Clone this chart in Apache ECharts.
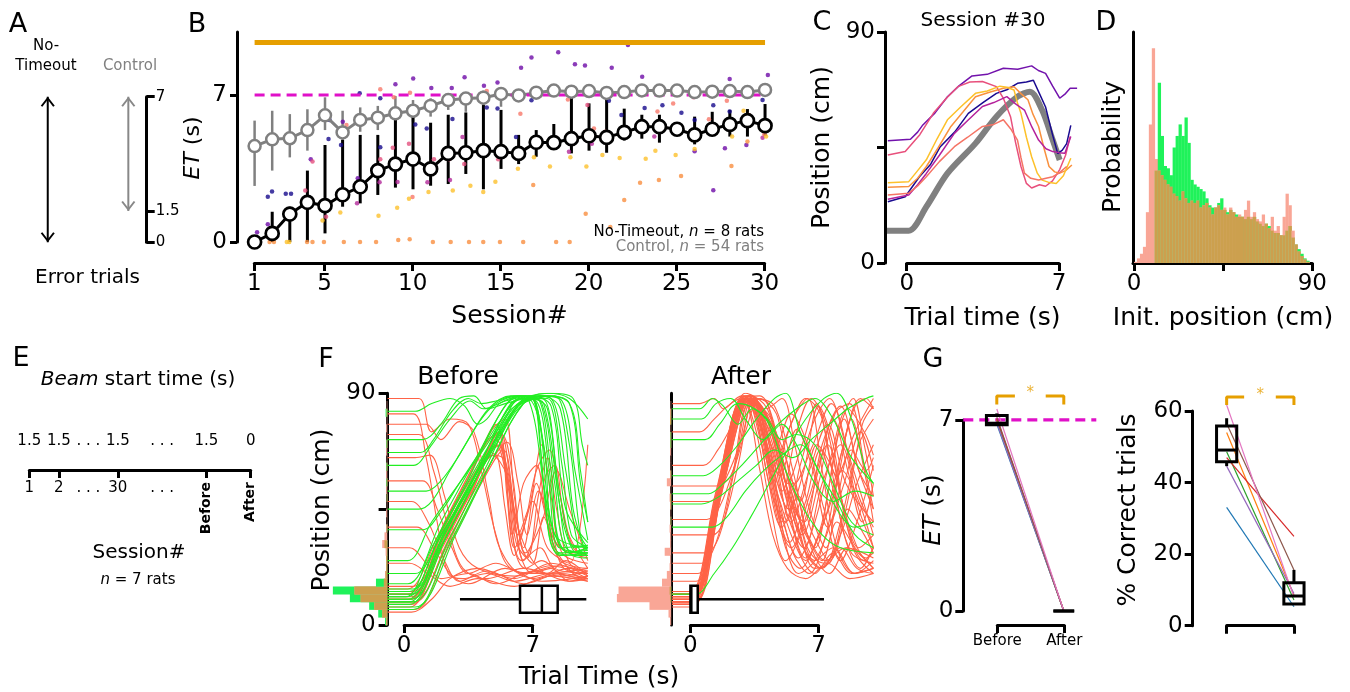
<!DOCTYPE html>
<html>
<head>
<meta charset="utf-8">
<script src="https://cdn.jsdelivr.net/npm/echarts@6/dist/echarts.min.js"></script>
<style>
html, body { margin: 0; padding: 0; background: #fff; }
#chart { width: 1350px; height: 692px; }
</style>
</head>
<body>
<div id="chart"></div>
<script>
// ---------- data ----------
// A: schematic ranges of error-trial ET
const aNoTimeoutRange = [0, 7];
const aControlRange = [1.5, 7];
const aTicks = [0, 1.5, 7];

// B: ET per session
const sessions = [1,2,3,4,5,6,7,8,9,10,11,12,13,14,15,16,17,18,19,20,21,22,23,24,25,26,27,28,29,30];
const ntMean = [0,0.41,1.33,1.89,1.73,2.25,2.63,3.4,3.71,3.95,3.48,4.22,4.25,4.35,4.3,4.22,4.75,4.73,4.92,5.06,4.98,5.22,5.49,5.49,5.37,5.1,5.37,5.6,5.78,5.54];
const ntLow = [0,0,0,0,0.41,1.68,1.84,2.24,2.59,2.51,2.68,2.76,3.24,2.51,3.48,3.71,4.06,4.51,4.22,4.35,4.25,4.83,4.92,4.73,5.1,4.65,5.05,5.02,5.02,5.05];
const ntHigh = [0,1.44,1.68,3.4,4.62,4.86,5.1,5.1,6.25,6.02,5.68,6.06,6.17,6.52,6.29,5.1,5.33,5.62,6.95,6.6,6.87,6.35,6.06,6.06,5.65,5.97,6.2,6.29,6.33,6.57];
const ctrlMean = [4.57,4.89,4.94,5.33,6.03,5.22,5.81,5.92,6.13,6.25,6.48,6.76,6.83,6.87,7.05,6.98,7.11,7.21,7.16,7.19,7.1,7.14,7.22,7.21,7.21,7.14,7.16,7.19,7.14,7.24];
const ctrlLow = [2.67,3.4,4.03,4.35,5.33,4.54,5.25,5.33,5.65,5.73,5.97,6.29,6.2,6.41,6.44,6.68,6.9,7.0,6.95,6.98,6.9,6.95,7.02,7.0,7.0,6.95,6.96,7.0,6.94,7.05];
const ctrlHigh = [5.78,6.25,6.09,6.32,6.89,6.25,6.41,6.48,6.95,6.76,6.84,6.98,7.08,7.21,7.24,7.24,7.3,7.4,7.36,7.38,7.3,7.33,7.42,7.4,7.4,7.33,7.36,7.38,7.33,7.43];
const bTopLevel = 9.5;
const bTargetET = 7;
const bTicksX = [1, 5, 10, 15, 20, 25, 30];
const bTicksY = [0, 7];
// single rats (session, ET)
const ratNavy = [[1.75,2.16],[1.99,2.4],[2.77,2.3],[3.07,2.3],[5.26,5.81],[5.2,4.9],[5.91,4.62],[6.97,7.08],[8.14,6.84],[8.14,4.51],[10.13,5.59],[10.78,5.41],[12.24,5.86],[14.19,6.41],[14.8,6.36],[15.85,5.0],[16.73,6.75],[18.09,7.21],[19.1,7.16],[21.13,6.73],[21.84,6.05],[23.16,6.38],[24.17,6.51],[25.25,6.16],[26.0,5.81],[27.06,6.51],[27.99,6.21],[28.84,5.97],[29.86,6.76]];
const ratPurple = [[1.14,0.46],[1.75,0.84],[4.19,3.94],[3.94,2.0],[6.01,5.73],[6.86,3.03],[9.0,7.51],[10.01,7.79],[11.04,7.33],[12.2,7.33],[12.93,7.84],[14.03,7.44],[14.8,7.59],[16.14,8.3],[16.73,8.78],[18.25,9.03],[19.2,8.46],[19.77,8.4],[21.29,8.3],[22.21,9.38],[23.02,7.87],[26.0,4.32],[27.06,2.46],[27.99,7.76],[27.72,4.46],[28.94,4.62],[30.16,7.95]];
const ratMagenta = [[6.01,2.0],[6.82,1.84],[8.1,2.84],[9.12,2.86],[10.82,2.84],[12.1,2.95],[12.81,5.0],[14.03,4.57],[15.96,4.03],[18.86,4.3],[20.16,4.68],[23.71,5.02],[29.86,4.97]];
const ratPink = [[3.88,2.45],[4.29,3.83],[5.06,1.2],[8.14,3.94],[8.85,4.49],[9.77,4.68],[11.19,3.94],[12.06,3.94],[12.91,3.71],[14.84,3.94],[16.87,4.9],[19.91,6.52],[22.92,5.25],[24.99,5.27],[25.94,6.89],[26.91,5.27]];
const ratSalmon = [[6.22,5.57],[8.14,7.27],[8.91,6.89],[9.83,7.11],[9.97,2.14],[14.19,7.19],[16.1,6.11],[18.8,6.79],[20.28,5.41],[20.93,5.25],[21.94,7.33],[23.89,6.22],[24.78,6.6],[26.81,5.84],[27.83,6.73],[29.08,6.05],[29.96,5.13]];
const ratGold = [[2.83,0],[2.97,0],[4.86,1.02],[5.87,1.4],[8.04,1.25],[9.1,1.63],[9.77,2.06],[10.88,2.38],[12.26,2.45],[13.26,2.68],[13.99,2.38],[14.68,2.87],[15.96,3.49],[16.87,4.03],[17.78,3.59],[18.94,4.03],[19.85,3.59],[20.76,4.14],[21.74,4.0],[23.22,3.97],[23.77,4.35],[24.92,4.14],[26.0,4.43],[28.13,5.02],[28.78,6.25],[30.06,5.02]];
const ratOrange = [[1.85,0],[2.1,0],[3.98,0],[4.29,0],[4.94,0],[6.07,0],[6.99,0],[7.9,0],[9.16,0.1],[9.81,0.13],[11.13,0],[12.14,0],[13.18,0],[13.99,0],[14.94,0],[16.26,0],[18.13,0],[18.9,0],[16.83,2.71],[19.81,1.35],[21.21,0.71],[22.0,2.0],[22.9,2.82],[23.97,2.95],[25.23,3.14],[28.09,3.62],[29.0,4.78]];

// C: session #30 trajectories (time s, position cm)
const cAverage = [[-0.91,12.6],[0.09,12.6],[0.9,21.9],[1.87,34.9],[3.16,46.6],[4.12,57],[5.09,64.8],[5.66,66.7],[6.22,59.6],[6.71,47.9],[7.03,40.1]];
const cNavy = [[-0.87,23.9],[-0.07,25.8],[0.58,33.6],[1.1,38.5],[1.54,45.3],[2.2,51],[2.83,58.3],[3.5,62.5],[4.12,66.1],[4.6,67.5],[5.09,70],[5.5,70.5],[5.82,71.2],[6.1,66],[6.38,60.8],[6.7,50],[6.94,42.6],[7.15,44],[7.35,46.5],[7.54,53.6]];
const cPurple = [[-0.87,47.6],[0.17,48.2],[0.5,51],[0.74,53.8],[1.3,58.5],[1.87,64.8],[2.4,69],[3.0,72.9],[3.7,73.5],[4.44,75.9],[5.1,75.5],[5.74,76.8],[6.05,75],[6.38,73.9],[6.7,69],[7.03,64.2],[7.3,66],[7.51,68.1],[7.83,68.1]];
const cPink = [[-0.87,42.1],[-0.07,43.4],[0.6,50],[1.22,58.3],[1.8,64],[2.35,68.7],[2.9,70.5],[3.48,70.7],[4.12,68.7],[4.45,64],[4.77,57],[5.0,47],[5.25,37.6],[5.5,31],[5.74,29.2],[6.1,30.5],[6.38,29.9],[6.7,32],[7.03,36.4],[7.3,42],[7.51,49.3]];
const cOrange = [[-0.87,29.5],[0.09,29.8],[0.5,33],[0.9,37.6],[1.45,45],[2.03,53.2],[2.6,59],[3.16,64.8],[3.8,66.5],[4.44,68.1],[4.93,68.7],[5.25,66],[5.57,63.6],[5.8,58],[6.06,53.2],[6.3,45],[6.54,37.6],[6.8,35.5],[7.03,35],[7.3,36],[7.59,38.2]];
const cGold = [[-0.87,31.3],[0.09,31.7],[0.5,36],[0.9,40.2],[1.4,48.5],[1.87,55.8],[2.5,61],[3.16,66.1],[3.7,67],[4.28,68.9],[4.6,68.5],[4.93,67.4],[5.1,62],[5.25,58.3],[5.5,49],[5.74,41.4],[6.0,35],[6.22,32.3],[6.5,31.5],[6.87,31],[7.2,34],[7.54,40.8]];
const cMagenta = [[-0.87,24.8],[0.09,26.5],[0.5,30.5],[0.9,34.9],[1.5,42],[2.19,50.5],[2.8,55.5],[3.48,61],[4.0,62.5],[4.6,64.8],[5.0,62],[5.41,59.6],[5.75,53],[6.06,47.9],[6.4,44.5],[6.71,43.4],[7.0,43],[7.27,42.8],[7.54,49.3]];
const cSalmon = [[-0.87,26.5],[0.09,27.2],[0.5,30],[0.9,33.6],[1.5,39.5],[2.19,45.3],[2.8,49],[3.48,53.2],[4.0,54],[4.44,55.8],[4.8,52],[5.09,47.9],[5.25,41],[5.41,35],[5.7,33],[6.06,32.3],[6.4,33],[6.71,33.6],[7.0,35],[7.35,37.6]];

// D: initial position histograms, 1.5 cm bins from 0 to 90
const dBinWidth = 1.5;
const dCorrect = [0,0,0,0,0,0,0,0.4,0.78,0.55,0.42,0.41,0.38,0.5,0.55,0.6,0.55,0.63,0.52,0.36,0.34,0.33,0.32,0.31,0.28,0.25,0.24,0.24,0.26,0.28,0.23,0.22,0.23,0.22,0.21,0.2,0.2,0.19,0.2,0.19,0.2,0.18,0.17,0.16,0.17,0.16,0.14,0.13,0.13,0.12,0.12,0.14,0.16,0.11,0.08,0.06,0.04,0.02,0.01,0];
const dError = [0.005,0.02,0.04,0.07,0.22,0.6,0.93,0.45,0.4,0.38,0.36,0.34,0.33,0.3,0.29,0.27,0.31,0.28,0.26,0.27,0.26,0.27,0.24,0.25,0.26,0.24,0.21,0.24,0.25,0.23,0.24,0.21,0.24,0.22,0.2,0.21,0.2,0.23,0.27,0.2,0.22,0.19,0.18,0.21,0.17,0.15,0.2,0.14,0.16,0.12,0.2,0.3,0.25,0.14,0.08,0.05,0.03,0.015,0.005,0];

// E: protocol
const eTickSlots = [0, 2, 6, 12, 15];
const eSessionSlots = [0, 2, 4, 6, 9];
const eSessionLabels = ['1', '2', '. . .', '30', '. . .'];
const eBeamSlots = [0, 2, 4, 6, 9, 12, 15];
const eBeamLabels = ['1.5', '1.5', '. . .', '1.5', '. . .', '1.5', '0'];
const eEndSlots = [12, 15];
const eEndLabels = ['Before', 'After'];

// F: trajectories (time s, position cm)
const fBeforeGreen = [
  [[-0.9,8],[0.3,8],[2,30],[4,58],[6,84],[7,89],[8,88],[8.8,60],[9.5,30],[10,27]],
  [[-0.9,10],[0.2,10],[2,33],[4,60],[5.8,86],[6.8,88],[7.6,86],[8.4,50],[9,28],[10,26]],
  [[-0.9,12],[0.4,12],[2.2,35],[4.2,62],[6.2,85],[7.5,89],[8.5,84],[9.2,45],[9.8,30],[10,29]],
  [[-0.9,6],[0.5,6],[2.5,32],[4.5,60],[6.5,86],[7.8,89],[9,86],[9.6,55],[10,40]],
  [[-0.9,9],[0.3,9],[1.8,28],[3.8,55],[5.5,80],[6.3,88],[7.2,87],[7.9,60],[8.4,32],[9,28],[10,30]],
  [[-0.9,11],[0.1,11],[1.5,30],[3.5,57],[5.3,83],[6.2,89],[7,88],[7.4,70],[7.9,35],[8.5,27],[10,28]],
  [[-0.9,14],[0.5,14],[2.3,38],[4.5,66],[6,84],[7.2,88],[8.2,89],[9,70],[9.6,35],[10,30]],
  [[-0.9,7],[0.6,7],[2.8,35],[4.8,64],[6.6,87],[8,90],[9.2,88],[9.7,70],[10,62]],
  [[-0.9,16],[0.2,16],[2,40],[4,66],[5.6,86],[6.5,89],[7.5,86],[8.2,55],[8.8,30],[10,28]],
  [[-0.9,10],[0.4,10],[2.4,36],[4.4,63],[6.3,86],[7.4,89],[8.6,87],[9.3,60],[10,33]],
  [[-0.9,13],[0.3,13],[2,36],[4,62],[5.9,84],[6.9,88],[7.8,84],[8.5,45],[9.2,29],[10,27]],
  [[-0.9,83],[0.6,83],[1.5,86],[2.5,88],[3.3,85],[4,78],[4.5,80],[5.2,86],[6.5,89],[7.3,88],[8,60],[8.6,30],[10,28]],
  [[-0.9,72],[1,72],[2,78],[3,88],[3.8,89],[4.5,84],[5.5,86],[6.7,88],[7.6,70],[8.2,35],[10,30]],
  [[-0.9,62],[0.5,62],[1.5,70],[2.5,80],[3.6,87],[4.3,84],[5.5,87],[6.8,89],[7.8,60],[8.5,30],[10,31]],
  [[-0.9,52],[1.2,52],[2,56],[3,66],[4,78],[5,86],[6.3,89],[7.2,86],[8,40],[9,28],[10,30]],
  [[-0.9,45],[0.8,45],[1.5,48],[2.5,60],[3.5,72],[4.6,84],[5.8,89],[6.8,87],[7.7,50],[8.5,28],[10,29]],
  [[-0.9,37],[1,37],[2,44],[3,55],[4.2,68],[5.3,80],[6.3,88],[7.5,88],[8.5,50],[9.3,30],[10,31]],
  [[-0.9,25],[0.2,25],[1.5,40],[3,55],[4.5,70],[5.8,85],[6.8,89],[8,85],[8.8,45],[10,32]],
  [[-0.9,20],[0.6,20],[2,35],[3.5,52],[5,70],[6.2,84],[7.5,89],[9,86],[9.6,60],[10,40]],
  [[-0.9,9],[0.5,9],[2.5,34],[4.5,62],[6.3,86],[7.8,90],[9,88],[10,80]],
  [[-0.9,11],[0.2,11],[1.8,32],[3.8,58],[5.6,82],[6.6,87],[7.8,88],[8.6,62],[9.1,35],[10,30]],
  [[-0.9,67],[0.9,67],[1.6,72],[2.6,83],[3.5,88],[4.2,86],[5,87],[6,89],[7,88],[7.6,55],[8.3,28],[10,27]]
];
const fBeforeRed = [
  [[-0.9,10],[0.3,10],[2,32],[3.8,55],[5,72],[5.6,60],[6,30],[6.6,22],[7.5,25],[8.5,20],[10,18]],
  [[-0.9,12],[0.5,12],[2.2,36],[4,60],[5.2,75],[5.8,55],[6.3,28],[7,20],[8,22],[9,17],[10,19]],
  [[-0.9,8],[0.4,8],[2,30],[3.5,50],[4.8,68],[5.3,70],[5.8,40],[6.4,25],[7.4,30],[8.2,22],[10,20]],
  [[-0.9,14],[0.2,14],[1.8,34],[3.5,58],[4.8,76],[5.5,80],[6,50],[6.6,28],[7.5,40],[8.3,60],[9,45],[10,25]],
  [[-0.9,6],[0.6,6],[2.4,30],[4.2,55],[5.4,68],[6,45],[6.5,30],[7.2,55],[7.8,40],[8.5,25],[10,22]],
  [[-0.9,82],[0.5,82],[1.2,65],[1.8,40],[2.4,20],[3.2,18],[4.5,20],[6,17],[8,20],[10,17]],
  [[-0.9,74],[0.8,74],[1.6,60],[2.5,35],[3.2,22],[4.5,18],[6.5,22],[8.5,19],[10,21]],
  [[-0.9,65],[0.6,65],[1.4,66],[2.2,50],[3,30],[4,22],[6,19],[8,23],[10,18]],
  [[-0.9,56],[1,56],[1.8,45],[2.6,30],[3.5,20],[5,24],[7,18],[9,22],[10,20]],
  [[-0.9,48],[0.4,48],[1.3,40],[2.2,25],[3,17],[4.5,21],[6.5,16],[8.5,20],[10,18]],
  [[-0.9,38],[0.7,38],[1.6,30],[2.5,20],[3.5,16],[5.5,22],[7.5,17],[10,19]],
  [[-0.9,30],[0.3,30],[1.2,24],[2,18],[3.5,20],[5,16],[7,21],[9,17],[10,18]],
  [[-0.9,88],[0.8,88],[1.5,75],[2.5,80],[3.5,78],[4.2,60],[5,35],[5.8,22],[7.5,20],[10,22]],
  [[-0.9,78],[1.2,78],[2,72],[3,79],[3.8,75],[4.6,50],[5.2,30],[6.5,20],[8.5,23],[10,20]],
  [[-0.9,10],[0.3,10],[2,35],[3.6,58],[4.6,72],[5.2,75],[5.6,50],[6,30],[6.8,45],[7.5,70],[8,50],[8.6,28],[10,24]],
  [[-0.9,13],[0.5,13],[2.2,40],[4,65],[5,78],[5.5,60],[5.9,35],[6.5,55],[7.2,62],[7.8,40],[8.5,30],[10,26]],
  [[-0.9,5],[0.4,5],[1.5,10],[2.5,18],[4,22],[6,18],[8,24],[10,19]],
  [[-0.9,9],[0.6,9],[2,26],[3.5,48],[4.8,66],[5.6,58],[6.2,35],[7,48],[7.8,30],[9,24],[10,70]],
  [[-0.9,24],[0.3,24],[1.3,20],[2.5,15],[4,18],[6,15],[8,19],[10,17]],
  [[-0.9,11],[0.4,11],[2.1,34],[3.9,58],[5.1,70],[5.7,52],[6.1,32],[6.7,26],[7.3,50],[7.8,65],[8.3,45],[9,24],[10,21]],
  [[-0.9,7],[0.3,7],[2,29],[3.7,52],[4.9,66],[5.5,64],[6,42],[6.5,25],[7.1,35],[7.7,58],[8.2,62],[8.8,38],[10,22]],
  [[-0.9,15],[0.5,15],[2.3,40],[4.1,62],[5.3,74],[5.9,58],[6.4,30],[7,24],[7.6,42],[8.2,30],[9.2,20],[10,18]],
  [[-0.9,12],[0.2,12],[1.9,33],[3.6,55],[4.7,67],[5.1,65],[5.5,45],[6,27],[6.6,40],[7.2,60],[7.9,68],[8.5,50],[9.2,30],[10,27]],
  [[-0.9,10],[0.4,10],[2.2,34],[4,58],[5,70],[5.6,57],[6.2,38],[6.9,26],[7.8,20],[8.8,25],[10,19]],
  [[-0.9,9],[0.5,9],[2.4,33],[4.3,58],[5.6,71],[6.2,55],[6.7,35],[7.3,52],[8,38],[8.7,22],[10,20]]
];
const fAfterRed = [
  [[-1,9],[0.1,9],[1.5,50],[3,88],[3.6,86],[4.3,60],[5,40],[5.6,55],[6.4,35],[7.2,25],[8,40],[9,30],[10,22]],
  [[-1,11],[0,11],[1.4,50],[2.9,89],[3.5,84],[4,70],[4.8,40],[5.5,30],[6.5,50],[7.5,70],[8.4,45],[9.2,30],[10,35]],
  [[-1,8],[0.2,8],[1.6,50],[3.1,88],[3.8,80],[4.5,55],[5.2,30],[6,22],[7,35],[8,55],[8.8,80],[9.5,60],[10,40]],
  [[-1,12],[0.1,12],[1.5,52],[3,90],[3.6,88],[4.4,75],[5.2,50],[6.3,25],[7.2,40],[8.1,75],[8.9,88],[9.5,70],[10,50]],
  [[-1,10],[0.3,10],[1.7,52],[3.2,89],[4,80],[5,65],[6,40],[6.8,30],[7.6,55],[8.4,80],[9.2,60],[10,45]],
  [[-1,7],[0,7],[1.3,45],[2.8,87],[3.4,88],[4.2,70],[5.4,45],[6.2,60],[7,85],[7.8,70],[8.5,40],[9.5,25],[10,30]],
  [[-1,13],[0.2,13],[1.6,52],[3,88],[3.7,86],[4.6,60],[5.6,80],[6.4,88],[7.2,60],[8,30],[9,20],[10,25]],
  [[-1,9],[0.1,9],[1.5,50],[3.1,88],[3.9,70],[4.8,50],[5.8,30],[6.8,20],[7.8,28],[8.8,20],[10,22]],
  [[-1,11],[0.2,11],[1.6,50],[3.2,88],[4.1,84],[5,88],[5.7,70],[6.5,45],[7.4,30],[8.2,65],[9,85],[9.6,88],[10,84]],
  [[-1,8],[0,8],[1.4,48],[2.9,88],[3.6,75],[4.4,45],[5.2,25],[6,35],[7,60],[7.8,80],[8.6,60],[9.4,40],[10,55]],
  [[-1,10],[0.2,10],[1.6,51],[3.1,89],[3.9,85],[4.7,72],[5.5,45],[6.3,28],[7.1,22],[8.2,35],[9.1,55],[10,70]],
  [[-1,12],[0.1,12],[1.5,50],[3,88],[3.8,89],[4.5,80],[5.3,55],[6.1,70],[6.9,86],[7.6,65],[8.4,35],[9.3,22],[10,30]],
  [[-1,9],[0.3,9],[1.7,51],[3.3,88],[4.3,70],[5.1,35],[5.9,20],[6.9,26],[7.9,45],[8.8,68],[9.6,60],[10,65]],
  [[-1,11],[0.1,11],[1.5,50],[3,89],[3.6,88],[4.3,66],[5,52],[5.8,75],[6.6,88],[7.4,78],[8.2,50],[9,28],[10,20]],
  [[-1,13],[0,13],[1.4,52],[2.9,88],[3.5,84],[4.2,58],[5,38],[5.9,50],[6.7,35],[7.6,25],[8.5,45],[9.4,78],[10,85]],
  [[-1,20],[0.4,20],[1.9,58],[3.3,88],[4.2,75],[5.2,45],[6.2,30],[7.2,55],[8.2,70],[9.2,45],[10,30]],
  [[-1,28],[0.8,28],[1.6,35],[2.4,60],[3.3,87],[4.4,80],[5.4,50],[6.4,35],[7.4,25],[8.5,30],[10,26]],
  [[-1,35],[1.2,35],[1.8,40],[2.6,62],[3.5,88],[4.5,70],[5.5,40],[6.5,60],[7.5,78],[8.5,55],[10,40]],
  [[-1,48],[1,48],[1.8,55],[2.7,70],[3.6,88],[4.6,85],[5.6,60],[6.6,30],[7.6,20],[8.6,30],[10,22]],
  [[-1,62],[0.7,62],[1.5,68],[2.5,80],[3.4,88],[4.2,86],[5.2,55],[6.2,40],[7.2,70],[8.2,85],[9.2,60],[10,50]],
  [[-1,75],[0.5,75],[1.3,80],[2.2,86],[3.2,89],[4.2,84],[5.2,60],[6.2,30],[7.2,22],[8.2,40],[9.2,70],[10,80]],
  [[-1,86],[0.5,86],[1.3,88],[1.8,84],[2.8,89],[3.8,86],[4.8,70],[5.8,45],[6.8,25],[7.8,30],[9,20],[10,22]],
  [[-1,54],[1.4,54],[2.2,58],[3,75],[3.8,88],[4.7,82],[5.7,55],[6.7,70],[7.7,86],[8.7,65],[10,35]],
  [[-1,8],[0.2,8],[1.5,45],[3,86],[3.8,60],[4.5,35],[5.3,22],[6.3,18],[7.5,24],[8.7,18],[10,20]],
  [[-1,10],[0.1,10],[1.5,48],[3,87],[3.7,80],[4.5,62],[5.5,78],[6.3,88],[7.1,82],[8,58],[9,75],[10,88]],
  [[-1,41],[0.9,41],[1.6,46],[2.5,64],[3.4,88],[4.3,78],[5.3,48],[6.3,26],[7.3,40],[8.3,68],[9.3,88],[10,84]],
  [[-1,10],[0.1,10],[1.5,49],[3,88],[3.7,82],[4.5,55],[5.4,32],[6.3,48],[7.1,68],[7.9,50],[8.8,28],[10,24]],
  [[-1,12],[0.2,12],[1.6,51],[3.2,89],[4,78],[4.9,58],[5.8,76],[6.7,60],[7.5,38],[8.4,55],[9.3,75],[10,60]],
  [[-1,9],[0,9],[1.4,49],[2.9,88],[3.5,86],[4.3,72],[5.2,52],[6.1,35],[7,55],[7.9,82],[8.7,86],[9.5,62],[10,45]],
  [[-1,11],[0.2,11],[1.6,51],[3.1,88],[3.9,76],[4.8,50],[5.6,28],[6.5,20],[7.4,35],[8.3,60],[9.2,48],[10,30]],
  [[-1,8],[0.1,8],[1.5,48],[3,87],[3.8,84],[4.6,68],[5.5,82],[6.4,70],[7.3,45],[8.2,25],[9.1,40],[10,62]],
  [[-1,13],[0.3,13],[1.7,53],[3.3,89],[4.2,80],[5.1,62],[6,48],[6.9,70],[7.8,60],[8.7,38],[9.6,26],[10,28]],
  [[-1,10],[0.1,10],[1.5,50],[3,88],[3.6,80],[4.4,52],[5.2,40],[6,62],[6.8,80],[7.6,88],[8.4,72],[9.2,50],[10,38]],
  [[-1,12],[0,12],[1.4,51],[2.9,88],[3.7,85],[4.6,76],[5.5,58],[6.4,30],[7.3,24],[8.2,30],[9.1,22],[10,20]],
  [[-1,17],[0.3,17],[1.8,55],[3.2,88],[4.1,70],[5,42],[5.9,26],[6.8,40],[7.7,66],[8.6,84],[9.5,75],[10,66]],
  [[-1,24],[0.6,24],[1.4,32],[2.3,58],[3.2,86],[4.1,82],[5,60],[5.9,38],[6.8,22],[7.7,25],[8.6,45],[9.5,35],[10,28]]
];
const fAfterGreen = [
  [[-1,84],[0.5,84],[1.2,88],[1.8,85],[2.6,78],[3.4,84],[4.2,80],[5,72],[5.8,74],[6.8,70],[7.8,55],[8.8,40],[10,35]],
  [[-1,80],[0.6,80],[1.4,86],[2.2,88],[3,80],[4,72],[5,78],[5.8,70],[6.8,55],[7.8,48],[9,52],[10,50]],
  [[-1,72],[0.8,72],[1.6,78],[2.6,86],[3.5,84],[4.3,78],[5.2,60],[6.2,45],[7.2,35],[8.2,30],[10,28]],
  [[-1,58],[0.7,58],[1.6,62],[2.6,70],[3.6,80],[4.6,88],[5.2,90],[6,75],[7,60],[8,48],[9,35],[10,30]],
  [[-1,51],[1,51],[1.8,55],[2.8,62],[3.8,70],[4.8,78],[5.8,84],[6.8,88],[7.8,80],[8.8,65],[10,55]],
  [[-1,47],[0.6,47],[1.6,50],[2.6,56],[3.6,62],[4.6,68],[5.6,65],[6.6,72],[7.6,78],[8.6,84],[9.6,88],[10,89]],
  [[-1,38],[1.2,38],[2,42],[3,52],[4,60],[5,66],[6,70],[7,60],[8,45],[9,38],[10,40]],
  [[-1,12],[0.3,12],[1.3,20],[2.3,30],[3.3,42],[4.3,55],[5.3,68],[6.3,80],[7.3,88],[8,90],[8.8,80],[9.6,60],[10,55]]
];
// F: initial position histograms, 3 cm bins from 0 to 90 (relative counts)
const fBinWidth = 3;
const fBeforeHistGreen = [0.04,0.16,0.32,0.66,0.96,0.2,0.03,0.02,0.02,0.01,0.05,0,0.01,0,0,0,0.01,0,0.02,0,0.02,0,0,0.02,0,0,0,0.03,0,0];
const fBeforeHistRed = [0.02,0.09,0.23,0.47,0.58,0.06,0.04,0.02,0.02,0.03,0.09,0.05,0.02,0.01,0.02,0.01,0.01,0.02,0.01,0.02,0.01,0.01,0.02,0.01,0.01,0.02,0.01,0.01,0.01,0];
const fAfterHistGreen = [0,0,0,0.02,0.03,0,0,0,0,0,0,0,0,0.01,0,0.01,0.02,0,0,0.01,0,0,0,0.02,0.02,0,0.02,0.01,0,0];
const fAfterHistRed = [0.02,0.05,0.4,1.0,0.97,0.17,0.08,0.03,0.02,0.12,0.02,0.02,0.03,0.01,0.01,0.02,0.03,0.01,0.08,0.02,0.01,0.01,0.02,0.01,0.01,0.01,0.02,0.02,0.01,0];
// F: ET box plots [position, whiskerLow, q1, median, q3, whiskerHigh]
const fBeforeBox = [10, 3.04, 6.31, 7.5, 8.36, 9.92];
const fAfterBox = [10, 0, 0, 0.05, 0.4, 7.3];

// G: per rat, Before (0) vs After (1)
const gConditions = ['Before', 'After'];
const gEtBefore = [6.85, 7.0, 6.95, 7.05, 6.9, 7.1, 7.4];
const gEtAfter = [0, 0, 0, 0, 0, 0, 0];
const gCorrectBefore = [33.1, 54, 48.6, 47, 44.6, 56.5, 61.7];
const gCorrectAfter = [5.3, 8.5, 7.2, 25, 9, 15.6, 8];
const gEtBoxes = [[0, 6.8, 6.82, 6.88, 7.16, 7.24], [1, 0, 0, 0, 0, 0]];
const gCorrectBoxes = [[0, 44.6, 45.8, 49.1, 55.8, 58], [1, 6.1, 6.1, 8.3, 12.0, 15.6]];
const gEtBracket = [7.57, 7.88];
const gCorrectBracket = [61.7, 63.9];

// ---------- styles ----------
const FONT = 'DejaVu Sans';
const ORANGE = '#e69f00';
const MAGENTA = '#e010c8';
const GRAY = '#808080';
const LINE_RED = '#ff6347';
const LINE_GREEN = '#22ee22';
const HIST_GREEN = '#1ff25a';
const HIST_SALMON = '#f9a696';
const HIST_TAN = '#cca04e';
const TAB = ['#1f77b4', '#ff7f0e', '#2ca02c', '#d62728', '#9467bd', '#8c564b', '#e377c2'];

const grids = [
  [20, 96.7, 126.7, 145.6],     // 0 A mini axis
  [237, 32, 538.6, 210],        // 1 B data
  [254.3, 262, 510.3, 1],       // 2 B x spine
  [885, 32, 195.8, 231],        // 3 C data
  [906.7, 262, 152.3, 1],       // 4 C x spine
  [1133, 32, 179.3, 231],       // 5 D
  [29.3, 469, 221.4, 1],        // 6 E
  [387.6, 393.3, 200.2, 231.7], // 7 F before
  [404.1, 624, 128.6, 1],       // 8 F before x spine
  [330.6, 393.3, 56.7, 231.7],  // 9 F before hist
  [671.2, 393.3, 202.2, 231.7], // 10 F after
  [690.4, 624, 128.1, 1],       // 11 F after x spine
  [616.9, 393.3, 54.3, 231.7],  // 12 F after hist
  [963.3, 387.2, 134, 223.8],   // 13 G ET data
  [963.3, 420, 1, 191],         // 14 G ET y spine
  [997.3, 624, 67, 1],          // 15 G ET x spine
  [1193, 389.6, 134.6, 236.1],  // 16 G % data
  [1192.7, 411, 1, 214.7],      // 17 G % y spine
  [1226.7, 624.7, 67.3, 1]      // 18 G % x spine
];

function hid(grid, min, max, extra) {
  return Object.assign({ type: 'value', gridIndex: grid, min: min, max: max, show: false,
    axisLine: { show: false, onZero: false }, splitLine: { show: false } }, extra || {});
}
function vis(grid, min, max, o) {
  const ax = {
    type: 'value', gridIndex: grid, min: min, max: max,
    axisLine: o.line === false ? { show: false, onZero: false } : { show: true, onZero: false, lineStyle: { color: '#000', width: 3 } },
    axisTick: o.ticks ? { show: true, length: o.tickLen || 8, lineStyle: { color: '#000', width: 3 }, customValues: o.ticks } : { show: false },
    axisLabel: o.labels ? {
      show: true, customValues: o.labels, color: '#000', fontSize: o.size || 23, fontFamily: FONT,
      margin: o.margin == null ? 10 : o.margin, rotate: o.rotate || 0, fontWeight: o.weight || 'normal'
    } : { show: false },
    splitLine: { show: false }
  };
  if (o.position) ax.position = o.position;
  if (o.labels && o.formatter) ax.axisLabel.formatter = o.formatter;
  return ax;
}
function lookup(slots, labels) {
  const m = {};
  slots.forEach(function (s, i) { m[s] = labels[i]; });
  return function (v) { return m[v] == null ? '' : m[v]; };
}

const xAxes = [
  hid(0, 0, 1),                                                               // 0
  hid(1, 0, 30.6),                                                            // 1
  vis(2, 1, 30, { ticks: bTicksX, labels: bTicksX }),                         // 2
  hid(3, -1, 8),                                                              // 3
  vis(4, 0, 7, { ticks: [0, 7], labels: [0, 7] }),                            // 4
  vis(5, -0.5, 90, { ticks: [0, 45, 90], labels: [0, 90] }),                  // 5
  vis(6, 0, 15, { ticks: eTickSlots, labels: eSessionSlots, size: 15, margin: 11, position: 'bottom', formatter: lookup(eSessionSlots, eSessionLabels) }), // 6
  vis(6, 0, 15, { line: false, labels: eBeamSlots, size: 15, margin: 20, position: 'top', formatter: lookup(eBeamSlots, eBeamLabels) }),                // 7
  vis(6, 0, 15, { line: false, labels: eEndSlots, size: 14, margin: 12, rotate: 90, weight: 'bold', position: 'bottom', formatter: lookup(eEndSlots, eEndLabels) }), // 8
  hid(7, -0.9, 10),                                                           // 9
  vis(8, 0, 7, { ticks: [0, 7], labels: [0, 7] }),                            // 10
  hid(9, 0, 1, { inverse: true }),                                            // 11
  hid(10, -1.05, 10),                                                         // 12
  vis(11, 0, 7, { ticks: [0, 7], labels: [0, 7] }),                           // 13
  hid(12, 0, 1, { inverse: true }),                                           // 14
  hid(13, -0.5, 1.5),                                                         // 15
  hid(14, 0, 1),                                                              // 16
  vis(15, 0, 1, { ticks: [0, 1], labels: [0, 1], size: 15, margin: 9, formatter: function (v) { return gConditions[v]; } }), // 17
  hid(16, -0.5, 1.5),                                                         // 18
  hid(17, 0, 1),                                                              // 19
  vis(18, 0, 1, { ticks: [0, 1] })                                            // 20
];
const yAxes = [
  vis(0, 0, 7, { ticks: aTicks, labels: aTicks, size: 15, margin: 9, position: 'right' }), // 0
  vis(1, 0, 10, { ticks: bTicksY, labels: bTicksY, tickLen: 7 }),             // 1
  hid(2, 0, 1),                                                               // 2
  vis(3, 0, 90, { ticks: [0, 45, 90], labels: [0, 90] }),                     // 3
  hid(4, 0, 1),                                                               // 4
  vis(5, 0, 1, {}),                                                           // 5
  hid(6, 0, 1),                                                               // 6
  vis(7, 0, 90, { ticks: [0, 45, 90], labels: [0, 90], tickLen: 9, margin: 12 }), // 7
  hid(8, 0, 1),                                                               // 8
  hid(9, 0, 90),                                                              // 9
  vis(10, 0, 90, {}),                                                         // 10
  hid(11, 0, 1),                                                              // 11
  hid(12, 0, 90),                                                             // 12
  hid(13, 0, 8.2),                                                            // 13
  vis(14, 0, 7, { ticks: [0, 7], labels: [0, 7] }),                           // 14
  hid(15, 0, 1),                                                              // 15
  hid(16, 0, 66),                                                             // 16
  vis(17, 0, 60, { ticks: [0, 20, 40, 60], labels: [0, 20, 40, 60] }),        // 17
  hid(18, 0, 1)                                                               // 18
];

// ---------- render helpers ----------
function errorBars(color, width) {
  return function (params, api) {
    const x = api.value(0);
    const a = api.coord([x, api.value(1)]);
    const b = api.coord([x, api.value(2)]);
    return { type: 'line', shape: { x1: a[0], y1: a[1], x2: b[0], y2: b[1] }, style: { stroke: color, lineWidth: width } };
  };
}
function histV(params, api) {
  const lo = api.value(0), hi = api.value(1), g = api.value(2), r = api.value(3);
  function rect(v, fill) {
    const a = api.coord([lo, v]), b = api.coord([hi, 0]);
    return { type: 'rect', shape: { x: a[0], y: a[1], width: b[0] - a[0] + 0.3, height: b[1] - a[1] }, style: { fill: fill } };
  }
  const ch = [];
  if (g > 0) ch.push(rect(g, HIST_GREEN));
  if (r > 0) ch.push(rect(r, HIST_SALMON));
  if (Math.min(g, r) > 0) ch.push(rect(Math.min(g, r), HIST_TAN));
  return { type: 'group', children: ch };
}
function histH(params, api) {
  const lo = api.value(0), hi = api.value(1), g = api.value(2), r = api.value(3);
  function rect(v, fill) {
    const a = api.coord([v, hi]), b = api.coord([0, lo]);
    return { type: 'rect', shape: { x: Math.min(a[0], b[0]), y: a[1], width: Math.abs(b[0] - a[0]), height: b[1] - a[1] + 0.3 }, style: { fill: fill } };
  }
  const ch = [];
  if (g > 0) ch.push(rect(g, HIST_GREEN));
  if (r > 0) ch.push(rect(r, HIST_SALMON));
  if (Math.min(g, r) > 0) ch.push(rect(Math.min(g, r), HIST_TAN));
  return { type: 'group', children: ch };
}
function boxV(halfW, lw) {
  return function (params, api) {
    const x = api.value(0), wlo = api.value(1), q1 = api.value(2), med = api.value(3), q3 = api.value(4), whi = api.value(5);
    const c = function (xx, yy) { return api.coord([xx, yy]); };
    const tl = c(x - halfW, q3), br = c(x + halfW, q1);
    const w1 = c(x, wlo), w2 = c(x, q1), w3 = c(x, q3), w4 = c(x, whi);
    const m1 = c(x - halfW, med), m2 = c(x + halfW, med);
    const st = { stroke: '#000', lineWidth: lw };
    return { type: 'group', children: [
      { type: 'line', shape: { x1: w1[0], y1: w1[1], x2: w2[0], y2: w2[1] }, style: st },
      { type: 'line', shape: { x1: w3[0], y1: w3[1], x2: w4[0], y2: w4[1] }, style: st },
      { type: 'rect', shape: { x: tl[0], y: tl[1], width: br[0] - tl[0], height: br[1] - tl[1] }, style: { stroke: '#000', lineWidth: lw, fill: 'rgba(0,0,0,0)' } },
      { type: 'line', shape: { x1: m1[0], y1: m1[1], x2: m2[0], y2: m2[1] }, style: st }
    ] };
  };
}
function boxH(halfH, lw) {
  return function (params, api) {
    const y = api.value(0), wlo = api.value(1), q1 = api.value(2), med = api.value(3), q3 = api.value(4), whi = api.value(5);
    const c = function (xx, yy) { return api.coord([xx, yy]); };
    const tl = c(q1, y + halfH), br = c(q3, y - halfH);
    const w1 = c(wlo, y), w2 = c(q1, y), w3 = c(q3, y), w4 = c(whi, y);
    const m1 = c(med, y + halfH), m2 = c(med, y - halfH);
    const st = { stroke: '#000', lineWidth: lw };
    return { type: 'group', children: [
      { type: 'line', shape: { x1: w1[0], y1: w1[1], x2: w2[0], y2: w2[1] }, style: st },
      { type: 'line', shape: { x1: w3[0], y1: w3[1], x2: w4[0], y2: w4[1] }, style: st },
      { type: 'rect', shape: { x: tl[0], y: tl[1], width: br[0] - tl[0], height: br[1] - tl[1] }, style: { stroke: '#000', lineWidth: lw, fill: '#fff' } },
      { type: 'line', shape: { x1: m1[0], y1: m1[1], x2: m2[0], y2: m2[1] }, style: st }
    ] };
  };
}
function lineS(xi, yi, data, color, width, extra) {
  return Object.assign({
    type: 'line', xAxisIndex: xi, yAxisIndex: yi, data: data, symbol: 'none', silent: true,
    lineStyle: { color: color, width: width }, itemStyle: { color: color }
  }, extra || {});
}
function histData(width, g, r) {
  return g.map(function (v, i) { return [i * width, (i + 1) * width, v, r[i]]; });
}

const ARROW_UP = 'path://M0,9 L7,0 L14,9 L12.4,10 L7,3 L1.6,10 Z';
const ARROW_DOWN = 'path://M0,1 L7,10 L14,1 L12.4,0 L7,7 L1.6,0 Z';

const series = [];

// A arrows
[[0.219, aNoTimeoutRange, '#000'], [0.855, aControlRange, '#888']].forEach(function (a) {
  series.push(lineS(0, 0, [
    { value: [a[0], a[1][0]], symbol: ARROW_DOWN, symbolOffset: [0, -5] },
    { value: [a[0], a[1][1]], symbol: ARROW_UP, symbolOffset: [0, 5] }
  ], a[2], 2, { showSymbol: true, symbolSize: [14, 10] }));
});

// B
[[ratNavy, '#170a8c'], [ratPurple, '#6e0ba8'], [ratMagenta, '#b32a9a'], [ratPink, '#e3507e'],
 [ratSalmon, '#f7786a'], [ratGold, '#fcc12c'], [ratOrange, '#f98f40']].forEach(function (r) {
  series.push({ type: 'scatter', xAxisIndex: 1, yAxisIndex: 1, data: r[0], symbolSize: 4.5, itemStyle: { color: r[1] }, silent: true });
});
series.push({ type: 'custom', xAxisIndex: 1, yAxisIndex: 1, renderItem: errorBars(GRAY, 2.5),
  data: sessions.map(function (s, i) { return [s, ctrlLow[i], ctrlHigh[i]]; }), silent: true });
series.push(lineS(1, 1, sessions.map(function (s, i) { return [s, ctrlMean[i]]; }), GRAY, 3,
  { symbol: 'circle', showSymbol: true, symbolSize: 12, itemStyle: { color: '#fff', borderColor: GRAY, borderWidth: 2.5 } }));
series.push(lineS(1, 1, [[1, bTargetET], [30, bTargetET]], MAGENTA, 3, { lineStyle: { color: MAGENTA, width: 3.2, type: [10, 6] } }));
series.push({ type: 'custom', xAxisIndex: 1, yAxisIndex: 1, renderItem: errorBars('#000', 3),
  data: sessions.map(function (s, i) { return [s, ntLow[i], ntHigh[i]]; }), silent: true });
series.push(lineS(1, 1, sessions.map(function (s, i) { return [s, ntMean[i]]; }), '#000', 3,
  { symbol: 'circle', showSymbol: true, symbolSize: 13, itemStyle: { color: '#fff', borderColor: '#000', borderWidth: 2.7 } }));
series.push(lineS(1, 1, [[1, bTopLevel], [30, bTopLevel]], ORANGE, 5));

// C
series.push(lineS(3, 3, cAverage, GRAY, 6, { smooth: 0.3 }));
[[cNavy, '#1a0a90'], [cPurple, '#7212ac'], [cPink, '#e8507c'], [cOrange, '#f9913f'],
 [cGold, '#fdc12a'], [cMagenta, '#b5229c'], [cSalmon, '#f57465']].forEach(function (c) {
  series.push(lineS(3, 3, c[0], c[1], 1.5));
});

// D
series.push({ type: 'custom', xAxisIndex: 5, yAxisIndex: 5, renderItem: histV, data: histData(dBinWidth, dCorrect, dError), silent: true });

// F
series.push({ type: 'custom', xAxisIndex: 11, yAxisIndex: 9, renderItem: histH, data: histData(fBinWidth, fBeforeHistGreen, fBeforeHistRed), silent: true });
series.push({ type: 'custom', xAxisIndex: 14, yAxisIndex: 12, renderItem: histH, data: histData(fBinWidth, fAfterHistGreen, fAfterHistRed), silent: true });
fBeforeRed.forEach(function (t) { series.push(lineS(9, 7, t, LINE_RED, 1.1, { smooth: 0.35 })); });
fBeforeGreen.forEach(function (t) { series.push(lineS(9, 7, t, LINE_GREEN, 1.1, { smooth: 0.35 })); });
fAfterRed.forEach(function (t) { series.push(lineS(12, 10, t, LINE_RED, 1.1, { smooth: 0.35 })); });
fAfterGreen.forEach(function (t) { series.push(lineS(12, 10, t, LINE_GREEN, 1.1, { smooth: 0.35 })); });
series.push({ type: 'custom', xAxisIndex: 9, yAxisIndex: 7, renderItem: boxH(5.2, 2.5), data: [fBeforeBox], silent: true, z: 5 });
series.push({ type: 'custom', xAxisIndex: 12, yAxisIndex: 10, renderItem: boxH(5.2, 2.5), data: [fAfterBox], silent: true, z: 5 });

// G: ET
series.push(lineS(15, 13, [[-0.5, bTargetET], [1.485, bTargetET]], MAGENTA, 3, { lineStyle: { color: MAGENTA, width: 3.2, type: [10, 6] } }));
gEtBefore.forEach(function (v, i) { series.push(lineS(15, 13, [[0, v], [1, gEtAfter[i]]], TAB[i], 1.2)); });
series.push({ type: 'custom', xAxisIndex: 15, yAxisIndex: 13, renderItem: boxV(0.155, 3), data: gEtBoxes, silent: true, z: 5 });
series.push(lineS(15, 13, [[0, gEtBracket[0]], [0, gEtBracket[1]], [0.27, gEtBracket[1]]], ORANGE, 3));
series.push(lineS(15, 13, [[0.73, gEtBracket[1]], [1, gEtBracket[1]], [1, gEtBracket[0]]], ORANGE, 3));
series.push({ type: 'scatter', xAxisIndex: 15, yAxisIndex: 13, data: [[0.5, gEtBracket[1] + 0.1]], symbolSize: 1,
  itemStyle: { color: 'rgba(0,0,0,0)' }, label: { show: true, formatter: '*', position: 'inside', color: ORANGE, fontSize: 15, fontFamily: FONT }, silent: true });
// G: % correct
gCorrectBefore.forEach(function (v, i) { series.push(lineS(18, 16, [[0, v], [1, gCorrectAfter[i]]], TAB[i], 1.2)); });
series.push({ type: 'custom', xAxisIndex: 18, yAxisIndex: 16, renderItem: boxV(0.15, 3), data: gCorrectBoxes, silent: true, z: 5 });
series.push(lineS(18, 16, [[0, gCorrectBracket[0]], [0, gCorrectBracket[1]], [0.26, gCorrectBracket[1]]], ORANGE, 3));
series.push(lineS(18, 16, [[0.73, gCorrectBracket[1]], [1, gCorrectBracket[1]], [1, gCorrectBracket[0]]], ORANGE, 3));
series.push({ type: 'scatter', xAxisIndex: 18, yAxisIndex: 16, data: [[0.5, gCorrectBracket[1] + 0.5]], symbolSize: 1,
  itemStyle: { color: 'rgba(0,0,0,0)' }, label: { show: true, formatter: '*', position: 'inside', color: ORANGE, fontSize: 15, fontFamily: FONT }, silent: true });

// ---------- texts ----------
function txt(x, y, text, size, o) {
  o = o || {};
  const style = { text: text, fontSize: size, fontFamily: FONT, fill: o.color || '#000', align: o.align || 'center', verticalAlign: 'middle', fontWeight: o.weight || 'normal' };
  if (o.italicTag) {
    style.rich = { i: { fontStyle: 'italic', fontSize: size, fontFamily: FONT, fill: o.color || '#000' } };
  }
  return { type: 'text', x: x, y: y, rotation: o.rot || 0, silent: true, z: 100, style: style };
}
const R90 = Math.PI / 2;
const graphic = [
  txt(18, 25, 'A', 27), txt(197, 25, 'B', 27), txt(822, 23, 'C', 27), txt(1106, 23, 'D', 27),
  txt(21, 359, 'E', 27), txt(326, 360, 'F', 27), txt(933, 360, 'G', 27),
  // A
  txt(46, 46, 'No-', 15), txt(46, 66, 'Timeout', 15), txt(130, 66, 'Control', 15, { color: GRAY }),
  txt(87.5, 278, 'Error trials', 20),
  // B
  txt(193.5, 148, '{i|ET} (s)', 22, { rot: R90, italicTag: true }),
  txt(509.5, 316, 'Session#', 25),
  txt(764, 232, 'No-Timeout, {i|n} = 8 rats', 15, { align: 'right', italicTag: true }),
  txt(764, 247, 'Control, {i|n} = 54 rats', 15, { align: 'right', italicTag: true, color: GRAY }),
  // C
  txt(983, 21, 'Session #30', 20),
  txt(822.6, 147.5, 'Position (cm)', 25, { rot: R90 }),
  txt(982.5, 318, 'Trial time (s)', 25),
  // D
  txt(1113, 147, 'Probability', 25, { rot: R90 }),
  txt(1223, 318, 'Init. position (cm)', 25),
  // E
  txt(138, 380, '{i|Beam} start time (s)', 20, { italicTag: true }),
  txt(139, 553, 'Session#', 20),
  txt(138, 580, '{i|n} = 7 rats', 15, { italicTag: true }),
  // F
  txt(458, 377, 'Before', 25), txt(741, 377, 'After', 25),
  txt(322.7, 510, 'Position (cm)', 25, { rot: R90 }),
  txt(599, 677, 'Trial Time (s)', 25),
  // G
  txt(933, 510, '{i|ET} (s)', 25, { rot: R90, italicTag: true }),
  txt(1128, 510, '% Correct trials', 25, { rot: R90 })
];

const chart = echarts.init(document.getElementById('chart'), null, { renderer: 'canvas' });
chart.setOption({
  animation: false,
  backgroundColor: '#fff',
  textStyle: { fontFamily: FONT },
  grid: grids.map(function (g) {
    return { left: g[0], top: g[1], width: g[2], height: g[3], containLabel: false, outerBoundsMode: 'none', show: false };
  }),
  xAxis: xAxes,
  yAxis: yAxes,
  series: series,
  graphic: graphic
});
</script>
</body>
</html>
